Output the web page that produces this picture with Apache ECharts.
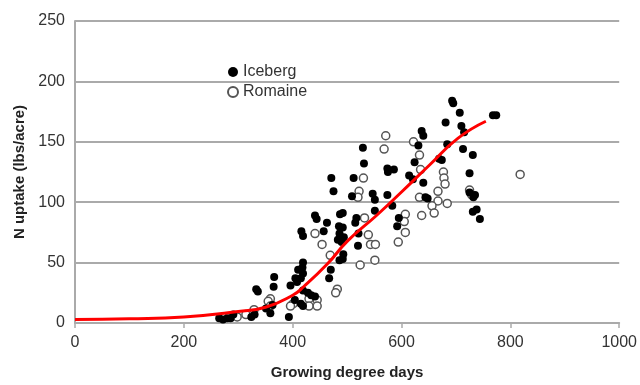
<!DOCTYPE html>
<html>
<head>
<meta charset="utf-8">
<script src="https://cdn.jsdelivr.net/npm/echarts@6/dist/echarts.min.js"></script>
<style>
  html, body { margin: 0; padding: 0; background: #fff; }
  #chart { width: 640px; height: 385px; }
</style>
</head>
<body>
<div id="chart"></div>
<script>
// growing degree days vs N uptake (lbs/acre)
const iceberg = [
  [695, 182], [693, 184], [707, 174], [768, 172], [774, 172], [681, 166], [710, 163],
  [715, 158], [637, 159], [640, 155], [529, 145], [684, 148], [631, 147], [731, 139],
  [713, 144], [531, 132], [624, 133], [669, 136], [674, 135], [574, 128], [586, 127],
  [575, 125], [725, 124], [614, 122], [471, 120], [512, 120], [621, 119], [640, 116],
  [475, 109], [725, 108], [735, 106], [509, 105], [547, 107], [551, 102], [648, 103],
  [644, 104], [732, 104], [574, 106], [583, 97], [738, 94], [731, 92], [744, 86],
  [441, 89], [444, 86], [551, 93], [487, 90], [492, 91], [517, 87], [595, 87],
  [463, 83], [515, 83], [485, 80], [492, 79], [592, 80], [416, 76], [419, 72],
  [457, 76], [486, 74], [521, 74], [483, 69], [490, 67], [494, 71], [520, 64],
  [493, 57], [486, 52], [492, 53], [470, 44], [467, 37], [419, 50], [418, 46],
  [419, 41], [410, 44], [405, 37], [415, 37], [408, 34], [366, 38], [365, 30],
  [396, 31], [336, 26], [333, 28], [419, 27], [428, 25], [434, 23], [441, 22],
  [404, 19], [415, 16], [419, 14], [359, 8], [324, 5], [330, 7], [393, 5],
  [265, 4], [272, 3], [280, 4], [286, 4], [291, 7], [351, 12], [363, 15]
];
const romaine = [
  [818, 123], [571, 155], [568, 144], [622, 150], [633, 139], [635, 127], [530, 120],
  [522, 109], [520, 104], [677, 125], [678, 120], [680, 115], [667, 109], [725, 110],
  [729, 106], [633, 104], [684, 99], [667, 101], [656, 97], [660, 91], [637, 89],
  [607, 90], [605, 84], [607, 75], [594, 67], [532, 87], [539, 73], [543, 65],
  [552, 65], [551, 52], [524, 48], [469, 56], [482, 28], [479, 25], [454, 65],
  [441, 74], [401, 16], [396, 14], [430, 20], [445, 19], [445, 14], [430, 14],
  [359, 20], [355, 18], [329, 11], [314, 7], [298, 5], [359, 14], [283, 5]
];
const fitX = [0, 100, 200, 300, 350, 400, 420, 464, 501, 554, 599, 652, 704, 755];
const fitY = [3, 3.5, 5, 9.5, 13, 23, 30, 49, 68, 89, 108, 131, 153, 167];
const xTicks = [0, 200, 400, 600, 800, 1000];
const yTicks = [0, 50, 100, 150, 200, 250];

const chart = echarts.init(document.getElementById('chart'));
const labelFont = { color: '#333', fontSize: 16, fontFamily: 'Liberation Sans, Arial, sans-serif' };
const nameFont = { color: '#222', fontSize: 15, fontWeight: 'bold', fontFamily: 'Liberation Sans, Arial, sans-serif' };

chart.setOption({
  backgroundColor: '#fff',
  animation: false,
  grid: { left: 75, right: 20, top: 21, bottom: 58 },
  legend: {
    orient: 'vertical',
    left: 222,
    top: 59,
    itemGap: 4,
    itemWidth: 10,
    itemHeight: 10,
    textStyle: { color: '#333', fontSize: 16, fontFamily: 'Liberation Sans, Arial, sans-serif' },
    data: ['Iceberg', 'Romaine']
  },
  xAxis: {
    type: 'value',
    min: xTicks[0],
    max: xTicks[xTicks.length - 1],
    interval: 200,
    name: 'Growing degree days',
    nameLocation: 'middle',
    nameGap: 42,
    nameTextStyle: nameFont,
    axisLine: { lineStyle: { color: '#aaa', width: 2 } },
    axisTick: { show: true, length: 5, lineStyle: { color: '#aaa', width: 1.5 } },
    axisLabel: Object.assign({ margin: 12, formatter: v => String(v) }, labelFont),
    splitLine: { show: false }
  },
  yAxis: {
    type: 'value',
    min: yTicks[0],
    max: yTicks[yTicks.length - 1],
    interval: 50,
    name: 'N uptake (lbs/acre)',
    nameLocation: 'middle',
    nameGap: 47,
    nameTextStyle: nameFont,
    axisLine: { show: true, lineStyle: { color: '#aaa', width: 2 } },
    axisTick: { show: false },
    axisLabel: Object.assign({ margin: 10 }, labelFont),
    splitLine: { lineStyle: { color: '#aaa', width: 2 } }
  },
  series: [
    {
      name: 'Iceberg',
      type: 'scatter',
      symbol: 'circle',
      symbolSize: 8,
      itemStyle: { color: '#000', opacity: 1 },
      data: iceberg,
      z: 3
    },
    {
      name: 'Romaine',
      type: 'scatter',
      symbol: 'circle',
      symbolSize: 8,
      itemStyle: { color: '#fff', borderColor: '#555', borderWidth: 1.5, opacity: 1 },
      data: romaine,
      z: 2
    },
    {
      name: 'fit',
      type: 'line',
      smooth: true,
      showSymbol: false,
      lineStyle: { color: '#f00', width: 3 },
      data: fitX.map((x, i) => [x, fitY[i]]),
      z: 4
    }
  ]
});
</script>
</body>
</html>
